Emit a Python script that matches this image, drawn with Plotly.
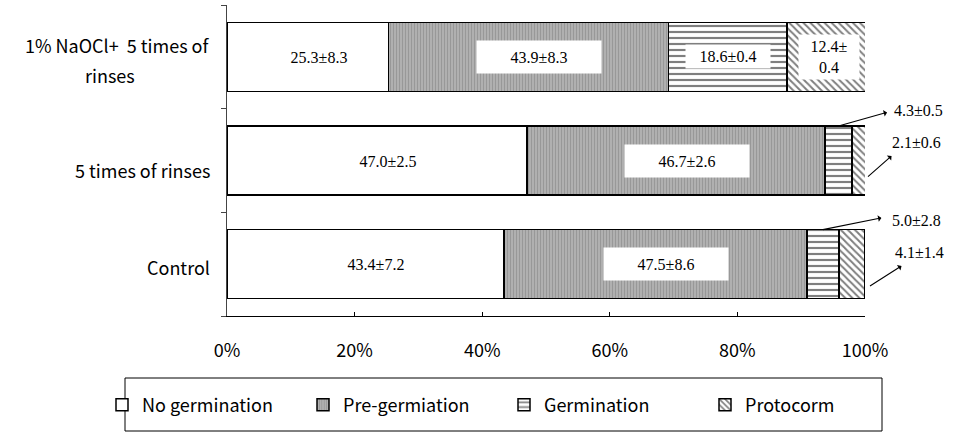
import plotly.graph_objects as go

# ---- data ----
categories = ["Control", "5 times of rinses", "1% NaOCl+  5 times of rinses"]
category_label_lines = [["Control"], ["5 times of rinses"], ["1% NaOCl+  5 times of", "rinses"]]
stages = ["No germination", "Pre-germiation", "Germination", "Protocorm"]

no_germination = [43.4, 47.0, 25.3]
no_germination_sd = [7.2, 2.5, 8.3]
pre_germination = [47.5, 46.7, 43.9]
pre_germination_sd = [8.6, 2.6, 8.3]
germination = [5.0, 4.3, 18.6]
germination_sd = [2.8, 0.5, 0.4]
protocorm = [4.1, 2.1, 12.4]
protocorm_sd = [1.4, 0.6, 0.4]

x_ticks = [0, 20, 40, 60, 80, 100]
x_tick_labels = ["0%", "20%", "40%", "60%", "80%", "100%"]

means = [no_germination, pre_germination, germination, protocorm]
sds = [no_germination_sd, pre_germination_sd, germination_sd, protocorm_sd]

# ---- style ----
W, H = 958, 446
ML, MR, MT, MB = 227, 93, 5, 130
PW, PH = W - ML - MR, H - MT - MB
SANS = "Noto Sans CJK JP"
SERIF = "Liberation Serif"

patterns = [
    dict(shape="", bgcolor="white"),
    dict(shape="|", bgcolor="#b0b0b0", fgcolor="#7a7a7a", size=3, solidity=0.3),
    dict(shape="-", bgcolor="white", fgcolor="black", size=6, solidity=0.36),
    dict(shape="\\", bgcolor="white", fgcolor="black", size=5, solidity=0.4),
]
fills = ["white", "#b0b0b0", "white", "white"]
box_w = [122, 122, 82, 58]
box_h = [30, 30, 21, 42]
text_dx = [11, 11, 0, 2]

fig = go.Figure()
for i, stage in enumerate(stages):
    fig.add_trace(go.Bar(
        y=categories, x=means[i], name=stage, orientation="h",
        width=0.667,
        marker=dict(color=fills[i], pattern=patterns[i],
                    line=dict(color="black", width=1.5)),
        hoverinfo="skip",
    ))

annotations = []
# inside labels
for j, cat in enumerate(categories):
    left = 0.0
    for i in range(4):
        m, s = means[i][j], sds[i][j]
        mid = left + m / 2
        if m >= 10:
            txt = f"{m:.1f}±{s:.1f}"
            if m < 15:
                txt = f"{m:.1f}±<br>{s:.1f}"
            annotations.append(dict(
                x=mid, y=j, xref="x", yref="y", text=txt, showarrow=False,
                xshift=text_dx[i], bgcolor="white", width=box_w[i], height=box_h[i],
                font=dict(family=SERIF, size=16, color="black"), align="center",
            ))
        left += m

# outside labels with arrows
outside = [
    # stage, cat, tail at top edge?, tail y offset (cat units), tail xshift, ax, ay, text xshift, text yshift
    (2, 1, True, 0.0, 0, 50, -14, 53, 15),
    (3, 1, False, -0.155, 3, 25, -22, 25, 34),
    (2, 0, True, 0.0, 0, 60, -12, 67, 9),
    (3, 0, False, -0.21, 5, 33, -21, 28, 33),
]
for (i, j, top, yoff, xsh, ax, ay, tx, ty) in outside:
    left = sum(means[k][j] for k in range(i))
    m, s = means[i][j], sds[i][j]
    if top:
        tx_data = left + m / 2
        ty_data = j + 0.333
    else:
        tx_data = min(left + m, 100)
        ty_data = j + yoff
    annotations.append(dict(
        x=tx_data, y=ty_data, xref="x", yref="y", text="", showarrow=True,
        ax=ax, ay=ay, arrowside="start", arrowhead=2, arrowsize=2.2,
        arrowwidth=1.1, arrowcolor="black", xshift=xsh,
    ))
    annotations.append(dict(
        x=tx_data, y=ty_data, xref="x", yref="y", text=f"{m:.1f}±{s:.1f}",
        showarrow=False, xanchor="left", yanchor="middle",
        xshift=tx, yshift=ty, font=dict(family=SERIF, size=16, color="black"),
    ))

# category labels (each line centered on the widest line, right edge at the axis)
label_shift = [-3, -9, -3]
line_gap = 30
for j, lines in enumerate(category_label_lines):
    n = len(lines)
    for k, line in enumerate(lines):
        dy = ((n - 1) / 2 - k) * line_gap
        annotations.append(dict(
            x=-15 / PW, y=j, xref="paper", yref="y", text=line, showarrow=False,
            xanchor="right" if k == 0 else "center", yanchor="middle",
            xshift=0 if k == 0 else -102,
            yshift=label_shift[j] + dy,
            font=dict(family=SANS, size=18, color="black"),
        ))

def px_x(p):
    return (p - ML) / PW

def px_y(p):
    return (MT + PH - p) / PH

shapes = [dict(type="rect", xref="paper", yref="paper",
               x0=px_x(125), x1=px_x(882), y0=px_y(431), y1=px_y(378),
               line=dict(color="black", width=1), fillcolor="rgba(0,0,0,0)", layer="below")]

fig.update_layout(
    width=W, height=H, barmode="stack", bargap=0.333,
    margin=dict(l=ML, r=MR, t=MT, b=MB, autoexpand=False),
    plot_bgcolor="white", paper_bgcolor="white",
    annotations=annotations, shapes=shapes,
    showlegend=True,
    legend=dict(orientation="h", x=px_x(102), xanchor="left", y=px_y(405), yanchor="middle",
                font=dict(family=SANS, size=18, color="black"), traceorder="normal",
                entrywidth=156, entrywidthmode="pixels", bgcolor="rgba(0,0,0,0)"),
    xaxis=dict(range=[0, 100], tickvals=x_ticks, ticktext=x_tick_labels, ticks="inside", ticklen=4,
               tickcolor="black", showline=True, linecolor="black", linewidth=1,
               showgrid=False, zeroline=False, ticklabelstandoff=18,
               tickfont=dict(family=SANS, size=18, color="black")),
    yaxis=dict(categoryorder="array", categoryarray=categories, showticklabels=False,
               ticks="outside", ticklen=5, tickson="boundaries", tickcolor="#444",
               showline=True, linecolor="#444", linewidth=1, showgrid=False,
               range=[-0.5, 2.5]),
)

fig.write_html("out.html", config={"displayModeBar": False},
               post_script="document.body.style.margin='0px';")
